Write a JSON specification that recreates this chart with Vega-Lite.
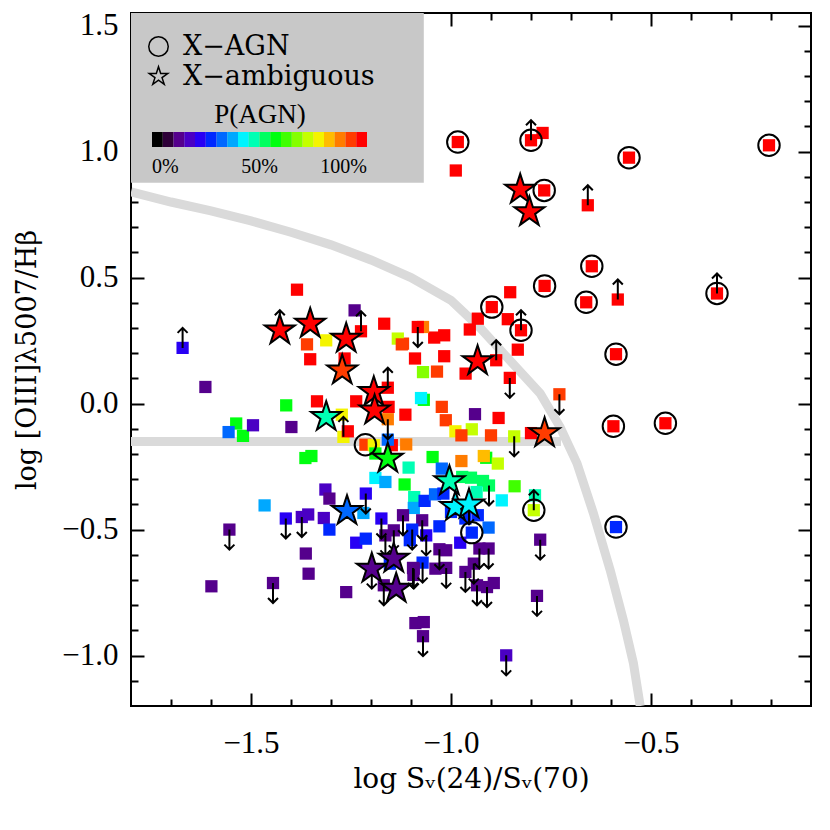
{
"$schema": "https://vega.github.io/schema/vega-lite/v6.json",
"width": 680, "height": 693,
"autosize": "none",
"padding": {"left": 131, "top": 13, "right": 19, "bottom": 124},
"background": "white",
"config": {"view": {"stroke": "black", "strokeWidth": 2}, "font": "Liberation Serif"},
"datasets": {
"pts": [
{"x":-0.983,"y":1.038,"p":0.975,"t":"X−AGN","a":"none"},
{"x":-0.988,"y":0.925,"p":0.975,"t":"none","a":"none"},
{"x":-0.800,"y":1.045,"p":0.975,"t":"X−AGN","a":"up"},
{"x":-0.771,"y":1.074,"p":0.975,"t":"none","a":"none"},
{"x":-0.555,"y":0.976,"p":0.975,"t":"X−AGN","a":"none"},
{"x":-0.205,"y":1.025,"p":0.975,"t":"X−AGN","a":"none"},
{"x":-0.827,"y":0.849,"p":0.975,"t":"X−ambiguous","a":"none"},
{"x":-0.767,"y":0.846,"p":0.975,"t":"X−AGN","a":"none"},
{"x":-0.804,"y":0.760,"p":0.975,"t":"X−ambiguous","a":"none"},
{"x":-0.658,"y":0.787,"p":0.975,"t":"none","a":"up"},
{"x":-0.648,"y":0.545,"p":0.975,"t":"X−AGN","a":"none"},
{"x":-0.766,"y":0.467,"p":0.975,"t":"X−AGN","a":"none"},
{"x":-0.662,"y":0.402,"p":0.975,"t":"X−AGN","a":"none"},
{"x":-0.583,"y":0.413,"p":0.975,"t":"none","a":"up"},
{"x":-0.335,"y":0.437,"p":0.975,"t":"X−AGN","a":"up"},
{"x":-0.852,"y":0.442,"p":0.975,"t":"none","a":"none"},
{"x":-0.898,"y":0.383,"p":0.975,"t":"X−AGN","a":"none"},
{"x":-0.933,"y":0.337,"p":0.975,"t":"none","a":"none"},
{"x":-0.858,"y":0.335,"p":0.975,"t":"none","a":"none"},
{"x":-0.825,"y":0.291,"p":0.975,"t":"X−AGN","a":"up"},
{"x":-0.953,"y":0.294,"p":0.975,"t":"none","a":"none"},
{"x":-1.042,"y":0.262,"p":0.975,"t":"none","a":"none"},
{"x":-1.017,"y":0.271,"p":0.975,"t":"none","a":"none"},
{"x":-1.070,"y":0.304,"p":0.875,"t":"none","a":"none"},
{"x":-0.5875,"y":0.196,"p":0.975,"t":"X−AGN","a":"none"},
{"x":-0.594,"y":-0.090,"p":0.975,"t":"X−AGN","a":"none"},
{"x":-0.464,"y":-0.078,"p":0.975,"t":"X−AGN","a":"none"},
{"x":-0.5875,"y":-0.490,"p":0.275,"t":"X−AGN","a":"none"},
{"x":-0.729,"y":0.037,"p":0.925,"t":"none","a":"down"},
{"x":-0.800,"y":-0.117,"p":0.975,"t":"none","a":"none"},
{"x":-0.766,"y":-0.117,"p":0.925,"t":"X−ambiguous","a":"none"},
{"x":-0.842,"y":-0.130,"p":0.725,"t":"none","a":"down"},
{"x":-0.790,"y":-0.364,"p":0.475,"t":"none","a":"none"},
{"x":-0.793,"y":-0.423,"p":0.725,"t":"X−AGN","a":"up"},
{"x":-0.777,"y":-0.540,"p":0.125,"t":"none","a":"down"},
{"x":-0.785,"y":-0.763,"p":0.125,"t":"none","a":"down"},
{"x":-0.862,"y":-0.999,"p":0.175,"t":"none","a":"down"},
{"x":-0.853,"y":0.102,"p":0.975,"t":"none","a":"down"},
{"x":-0.887,"y":0.172,"p":0.975,"t":"none","a":"up"},
{"x":-0.833,"y":0.214,"p":0.975,"t":"none","a":"none"},
{"x":-0.9635,"y":0.119,"p":0.975,"t":"none","a":"none"},
{"x":-1.017,"y":0.188,"p":0.975,"t":"none","a":"none"},
{"x":-1.090,"y":0.179,"p":0.975,"t":"none","a":"none"},
{"x":-1.070,"y":0.125,"p":0.675,"t":"none","a":"none"},
{"x":-1.035,"y":0.127,"p":0.925,"t":"none","a":"none"},
{"x":-1.120,"y":0.238,"p":0.925,"t":"none","a":"none"},
{"x":-1.083,"y":0.304,"p":0.975,"t":"none","a":"down"},
{"x":-1.068,"y":0.015,"p":0.575,"t":"none","a":"none"},
{"x":-1.075,"y":0.022,"p":0.425,"t":"none","a":"none"},
{"x":-1.023,"y":-0.013,"p":0.925,"t":"none","a":"none"},
{"x":-1.013,"y":-0.066,"p":0.925,"t":"none","a":"none"},
{"x":-0.940,"y":-0.042,"p":0.125,"t":"none","a":"none"},
{"x":-0.881,"y":-0.057,"p":0.975,"t":"none","a":"none"},
{"x":-0.989,"y":-0.110,"p":0.775,"t":"none","a":"none"},
{"x":-0.948,"y":-0.102,"p":0.725,"t":"none","a":"none"},
{"x":-0.974,"y":-0.126,"p":0.925,"t":"none","a":"none"},
{"x":-0.900,"y":-0.126,"p":0.925,"t":"none","a":"none"},
{"x":-1.112,"y":-0.162,"p":0.875,"t":"none","a":"none"},
{"x":-1.046,"y":-0.212,"p":0.575,"t":"none","a":"none"},
{"x":-0.974,"y":-0.228,"p":0.875,"t":"none","a":"none"},
{"x":-0.912,"y":-0.215,"p":0.575,"t":"none","a":"none"},
{"x":-0.918,"y":-0.208,"p":0.825,"t":"none","a":"none"},
{"x":-0.883,"y":-0.238,"p":0.725,"t":"none","a":"none"},
{"x":-1.106,"y":-0.254,"p":0.475,"t":"none","a":"none"},
{"x":-1.023,"y":-0.258,"p":0.325,"t":"none","a":"none"},
{"x":-1.116,"y":-0.321,"p":0.575,"t":"none","a":"none"},
{"x":-0.972,"y":-0.291,"p":0.525,"t":"none","a":"none"},
{"x":-0.950,"y":-0.294,"p":0.525,"t":"none","a":"none"},
{"x":-0.920,"y":-0.307,"p":0.525,"t":"none","a":"none"},
{"x":-0.905,"y":-0.325,"p":0.525,"t":"none","a":"down"},
{"x":-0.936,"y":-0.351,"p":0.475,"t":"none","a":"none"},
{"x":-0.873,"y":-0.384,"p":0.425,"t":"none","a":"none"},
{"x":-0.841,"y":-0.328,"p":0.625,"t":"none","a":"none"},
{"x":-1.092,"y":-0.371,"p":0.475,"t":"none","a":"none"},
{"x":-1.093,"y":-0.414,"p":0.375,"t":"none","a":"none"},
{"x":-1.066,"y":-0.386,"p":0.275,"t":"none","a":"none"},
{"x":-1.040,"y":-0.360,"p":0.325,"t":"none","a":"none"},
{"x":-1.019,"y":-0.357,"p":0.275,"t":"none","a":"none"},
{"x":-0.964,"y":-0.456,"p":0.275,"t":"none","a":"none"},
{"x":-0.933,"y":-0.443,"p":0.275,"t":"none","a":"none"},
{"x":-0.906,"y":-0.492,"p":0.325,"t":"none","a":"none"},
{"x":-0.948,"y":-0.512,"p":0.275,"t":"X−AGN","a":"none"},
{"x":-1.029,"y":-0.487,"p":0.275,"t":"none","a":"none"},
{"x":-0.977,"y":-0.552,"p":0.225,"t":"none","a":"none"},
{"x":-1.000,"y":-0.430,"p":0.275,"t":"none","a":"none"},
{"x":-1.120,"y":-0.443,"p":0.125,"t":"none","a":"down"},
{"x":-1.072,"y":-0.463,"p":0.125,"t":"none","a":"down"},
{"x":-1.097,"y":-0.500,"p":0.275,"t":"none","a":"down"},
{"x":-1.062,"y":-0.523,"p":0.225,"t":"none","a":"down"},
{"x":-1.029,"y":-0.578,"p":0.125,"t":"none","a":"down"},
{"x":-1.012,"y":-0.582,"p":0.125,"t":"none","a":"none"},
{"x":-1.071,"y":-0.631,"p":0.275,"t":"none","a":"down"},
{"x":-1.095,"y":-0.652,"p":0.125,"t":"none","a":"down"},
{"x":-1.039,"y":-0.655,"p":0.125,"t":"none","a":"none"},
{"x":-1.012,"y":-0.652,"p":0.125,"t":"none","a":"down"},
{"x":-0.964,"y":-0.668,"p":0.125,"t":"none","a":"down"},
{"x":-0.943,"y":-0.635,"p":0.125,"t":"none","a":"down"},
{"x":-0.929,"y":-0.575,"p":0.125,"t":"none","a":"down"},
{"x":-0.906,"y":-0.575,"p":0.125,"t":"none","a":"down"},
{"x":-0.935,"y":-0.721,"p":0.125,"t":"none","a":"down"},
{"x":-0.910,"y":-0.728,"p":0.125,"t":"none","a":"down"},
{"x":-0.893,"y":-0.712,"p":0.125,"t":"none","a":"none"},
{"x":-1.089,"y":-0.871,"p":0.125,"t":"none","a":"none"},
{"x":-1.068,"y":-0.867,"p":0.125,"t":"none","a":"none"},
{"x":-1.070,"y":-0.923,"p":0.125,"t":"none","a":"down"},
{"x":-1.671,"y":0.221,"p":0.225,"t":"none","a":"up"},
{"x":-1.614,"y":0.066,"p":0.125,"t":"none","a":"none"},
{"x":-1.385,"y":0.452,"p":0.975,"t":"none","a":"none"},
{"x":-1.360,"y":0.235,"p":0.925,"t":"none","a":"none"},
{"x":-1.352,"y":0.176,"p":0.975,"t":"none","a":"none"},
{"x":-1.312,"y":0.251,"p":0.775,"t":"none","a":"none"},
{"x":-1.241,"y":0.370,"p":0.125,"t":"none","a":"none"},
{"x":-1.225,"y":0.287,"p":0.975,"t":"none","a":"up"},
{"x":-1.266,"y":0.179,"p":0.975,"t":"none","a":"none"},
{"x":-1.167,"y":0.317,"p":0.975,"t":"none","a":"none"},
{"x":-1.133,"y":0.258,"p":0.725,"t":"none","a":"none"},
{"x":-1.123,"y":0.235,"p":0.925,"t":"none","a":"none"},
{"x":-1.335,"y":0.009,"p":0.975,"t":"none","a":"none"},
{"x":-1.412,"y":-0.007,"p":0.575,"t":"none","a":"none"},
{"x":-1.273,"y":-0.044,"p":0.775,"t":"none","a":"none"},
{"x":-1.269,"y":-0.132,"p":0.775,"t":"none","a":"up"},
{"x":-1.258,"y":-0.110,"p":0.975,"t":"none","a":"none"},
{"x":-1.237,"y":0.009,"p":0.975,"t":"none","a":"none"},
{"x":-1.158,"y":0.063,"p":0.975,"t":"none","a":"up"},
{"x":-1.156,"y":-0.013,"p":0.975,"t":"none","a":"none"},
{"x":-1.158,"y":-0.062,"p":0.875,"t":"none","a":"down"},
{"x":-1.114,"y":-0.044,"p":0.975,"t":"none","a":"none"},
{"x":-1.148,"y":-0.165,"p":0.975,"t":"none","a":"none"},
{"x":-1.158,"y":-0.143,"p":0.325,"t":"none","a":"none"},
{"x":-1.214,"y":-0.163,"p":0.925,"t":"X−AGN","a":"none"},
{"x":-1.193,"y":-0.165,"p":0.775,"t":"none","a":"none"},
{"x":-1.189,"y":-0.198,"p":0.575,"t":"none","a":"none"},
{"x":-1.537,"y":-0.079,"p":0.575,"t":"none","a":"none"},
{"x":-1.520,"y":-0.128,"p":0.575,"t":"none","a":"none"},
{"x":-1.556,"y":-0.113,"p":0.325,"t":"none","a":"none"},
{"x":-1.495,"y":-0.086,"p":0.175,"t":"none","a":"none"},
{"x":-1.399,"y":-0.093,"p":0.125,"t":"none","a":"none"},
{"x":-1.364,"y":-0.216,"p":0.575,"t":"none","a":"none"},
{"x":-1.349,"y":-0.208,"p":0.575,"t":"none","a":"none"},
{"x":-1.189,"y":-0.295,"p":0.425,"t":"none","a":"none"},
{"x":-1.164,"y":-0.311,"p":0.375,"t":"none","a":"none"},
{"x":-1.466,"y":-0.404,"p":0.375,"t":"none","a":"none"},
{"x":-1.314,"y":-0.341,"p":0.175,"t":"none","a":"none"},
{"x":-1.304,"y":-0.377,"p":0.125,"t":"none","a":"none"},
{"x":-1.219,"y":-0.434,"p":0.375,"t":"none","a":"none"},
{"x":-1.213,"y":-0.357,"p":0.225,"t":"none","a":"down"},
{"x":-1.413,"y":-0.456,"p":0.225,"t":"none","a":"down"},
{"x":-1.373,"y":-0.450,"p":0.175,"t":"none","a":"down"},
{"x":-1.357,"y":-0.440,"p":0.175,"t":"none","a":"none"},
{"x":-1.318,"y":-0.454,"p":0.175,"t":"none","a":"none"},
{"x":-1.304,"y":-0.500,"p":0.275,"t":"none","a":"none"},
{"x":-1.554,"y":-0.500,"p":0.125,"t":"none","a":"down"},
{"x":-1.363,"y":-0.595,"p":0.125,"t":"none","a":"none"},
{"x":-1.356,"y":-0.675,"p":0.125,"t":"none","a":"none"},
{"x":-1.599,"y":-0.725,"p":0.125,"t":"none","a":"none"},
{"x":-1.445,"y":-0.712,"p":0.125,"t":"none","a":"down"},
{"x":-1.262,"y":-0.748,"p":0.125,"t":"none","a":"none"},
{"x":-1.237,"y":-0.552,"p":0.225,"t":"none","a":"none"},
{"x":-1.213,"y":-0.536,"p":0.275,"t":"none","a":"none"},
{"x":-1.174,"y":-0.456,"p":0.225,"t":"none","a":"down"},
{"x":-1.164,"y":-0.523,"p":0.125,"t":"none","a":"down"},
{"x":-1.143,"y":-0.503,"p":0.125,"t":"none","a":"down"},
{"x":-1.103,"y":-0.542,"p":0.275,"t":"none","a":"none"},
{"x":-1.153,"y":-0.635,"p":0.275,"t":"none","a":"none"},
{"x":-1.168,"y":-0.721,"p":0.125,"t":"none","a":"down"},
{"x":-1.093,"y":-0.655,"p":0.125,"t":"none","a":"down"},
{"x":-1.094,"y":-0.680,"p":0.125,"t":"none","a":"none"},
{"x":-0.9335,"y":0.169,"p":0.975,"t":"X−ambiguous","a":"none"},
{"x":-1.428,"y":0.291,"p":0.975,"t":"X−ambiguous","a":"up"},
{"x":-1.352,"y":0.317,"p":0.975,"t":"X−ambiguous","a":"none"},
{"x":-1.262,"y":0.258,"p":0.975,"t":"X−ambiguous","a":"none"},
{"x":-1.272,"y":0.132,"p":0.925,"t":"X−ambiguous","a":"none"},
{"x":-1.312,"y":-0.053,"p":0.475,"t":"X−ambiguous","a":"none"},
{"x":-1.193,"y":0.046,"p":0.975,"t":"X−ambiguous","a":"none"},
{"x":-1.191,"y":-0.027,"p":0.975,"t":"X−ambiguous","a":"none"},
{"x":-1.158,"y":-0.218,"p":0.575,"t":"X−ambiguous","a":"none"},
{"x":-1.004,"y":-0.308,"p":0.475,"t":"X−ambiguous","a":"none"},
{"x":-0.989,"y":-0.410,"p":0.425,"t":"X−ambiguous","a":"none"},
{"x":-0.955,"y":-0.400,"p":0.425,"t":"X−ambiguous","a":"down"},
{"x":-1.260,"y":-0.426,"p":0.325,"t":"X−ambiguous","a":"none"},
{"x":-1.198,"y":-0.655,"p":0.125,"t":"X−ambiguous","a":"down"},
{"x":-1.143,"y":-0.615,"p":0.125,"t":"X−ambiguous","a":"none"},
{"x":-1.137,"y":-0.734,"p":0.125,"t":"X−ambiguous","a":"none"}
],
"curve": [
{"x":-1.8,"y":0.84},{"x":-1.7,"y":0.80},{"x":-1.6,"y":0.765},{"x":-1.5,"y":0.725},{"x":-1.4,"y":0.68},{"x":-1.3,"y":0.63},{"x":-1.2,"y":0.57},{"x":-1.1,"y":0.50},{"x":-1.0,"y":0.41},{"x":-0.927,"y":0.30},{"x":-0.852,"y":0.17},{"x":-0.777,"y":0.04},{"x":-0.727,"y":-0.094},{"x":-0.685,"y":-0.237},{"x":-0.644,"y":-0.435},{"x":-0.602,"y":-0.661},{"x":-0.569,"y":-0.86},{"x":-0.544,"y":-1.03},{"x":-0.527,"y":-1.2}
],
"hline": [{"x":-1.8,"y":-0.15},{"x":-0.725,"y":-0.15}]
},
"layer": [
{"data": {"values": [{}]},
 "mark": {"type": "rect", "color": "#c8c8c8"},
 "encoding": {
  "x": {"datum": -1.8, "type": "quantitative", "scale": {"domain": [-1.8, -0.1], "nice": false, "zero": false}, "axis": null},
  "x2": {"datum": -1.068},
  "y": {"datum": 0.876, "type": "quantitative", "scale": {"domain": [-1.2, 1.55], "nice": false, "zero": false}, "axis": null},
  "y2": {"datum": 1.55}}},
{"data": {"name": "curve"}, "mark": {"type": "line", "color": "#dadada", "strokeWidth": 9, "clip": true},
 "encoding": {"x": {"field": "x", "type": "quantitative", "axis": null}, "y": {"field": "y", "type": "quantitative", "axis": null}}},
{"data": {"name": "hline"}, "mark": {"type": "line", "color": "#dadada", "strokeWidth": 9, "strokeCap": "butt"},
 "encoding": {"x": {"field": "x", "type": "quantitative", "axis": null}, "y": {"field": "y", "type": "quantitative", "axis": null}}},
{"data": {"name": "pts"}, "transform": [{"filter": "datum.t !== 'X−ambiguous'"}],
 "mark": {"type": "point", "shape": "square", "filled": true, "size": 150, "opacity": 1},
 "encoding": {
  "x": {"field": "x", "type": "quantitative", "axis": {"orient": "bottom", "values": [-1.7,-1.6,-1.5,-1.4,-1.3,-1.2,-1.1,-1.0,-0.9,-0.8,-0.7,-0.6,-0.5,-0.4,-0.3,-0.2],
    "tickSize": {"condition": {"test": "abs(datum.value*2-round(datum.value*2))<0.001", "value": -13}, "value": -7},
    "tickColor": "black", "tickWidth": 2, "domain": false, "grid": false,
    "labelExpr": "abs(datum.value*2-round(datum.value*2))<0.001 ? format(datum.value,'.1f') : ''",
    "labelFont": "Liberation Serif", "labelFontSize": 31, "labelColor": "black", "labelPadding": 35, "labelOverlap": false, "labelFlush": false,
    "title": "log Sᵥ(24)/Sᵥ(70)", "titleFont": "DejaVu Serif", "titleFontSize": 28, "titleFontWeight": "normal", "titleColor": "black", "titlePadding": 1}},
  "y": {"field": "y", "type": "quantitative", "axis": {"orient": "left", "values": [-1.1,-1.0,-0.9,-0.8,-0.7,-0.6,-0.5,-0.4,-0.3,-0.2,-0.1,0,0.1,0.2,0.3,0.4,0.5,0.6,0.7,0.8,0.9,1.0,1.1,1.2,1.3,1.4,1.5],
    "tickSize": {"condition": {"test": "abs(datum.value*2-round(datum.value*2))<0.001", "value": -13}, "value": -7},
    "tickColor": "black", "tickWidth": 2, "domain": false, "grid": false,
    "labelExpr": "abs(datum.value*2-round(datum.value*2))<0.001 ? format(datum.value,'.1f') : ''",
    "labelFont": "Liberation Serif", "labelFontSize": 31, "labelColor": "black", "labelPadding": 26, "labelOverlap": false, "labelFlush": false,
    "title": "log [OIII]λ5007/Hβ", "titleFont": "DejaVu Serif", "titleFontSize": 27, "titleFontWeight": "normal", "titleColor": "black", "titlePadding": 20}},
  "color": {"field": "p", "type": "quantitative",
   "scale": {"type": "quantize", "domain": [0, 1], "range": ["#000000","#2e0038","#55008c","#4a00c4","#2800f4","#0028ff","#0068ff","#00a8ff","#00f4ff","#00ffb4","#00ff60","#00ff10","#40ff00","#84ff00","#c4ff00","#f4f400","#ffbc00","#ff7c00","#ff3c00","#ff0000"]},
   "legend": {"type": "gradient", "orient": "none", "legendX": 21, "legendY": 89, "direction": "horizontal",
    "gradientLength": 215, "gradientThickness": 15, "gradientStrokeWidth": 0,
    "values": [0, 0.0501, 0.1001, 0.1501, 0.2001, 0.2501, 0.3001, 0.3501, 0.4001, 0.4501, 0.5001, 0.5501, 0.6001, 0.6501, 0.7001, 0.7501, 0.8001, 0.8501, 0.9001, 0.9501, 1],
    "labelExpr": "datum.value < 0.001 ? '0%' : abs(datum.value - 0.5) < 0.01 ? '50%' : datum.value > 0.999 ? '100%' : ''",
    "labelFont": "Liberation Serif", "labelFontSize": 20, "labelColor": "black", "labelOverlap": false, "labelOffset": 10,
    "title": "P(AGN)", "titleFont": "Liberation Serif", "titleFontSize": 27, "titleFontWeight": "normal", "titleColor": "black", "titleAnchor": "middle", "titlePadding": 3,
    "encode": {"labels": {"align": {"value": "left"}, "dx": {"condition": [{"test": "datum.value < 0.001", "value": 0}, {"test": "datum.value > 0.999", "value": -14}], "value": -8}}}}}}},
{"data": {"name": "pts"}, "transform": [{"filter": "datum.a === 'up'"}],
 "mark": {"type": "point", "shape": "M0,0L0,-4M-1,-3L0,-4L1,-3", "size": 100, "filled": false, "stroke": "black", "strokeWidth": 2, "opacity": 1},
 "encoding": {"x": {"field": "x", "type": "quantitative", "axis": null}, "y": {"field": "y", "type": "quantitative", "axis": null}}},
{"data": {"name": "pts"}, "transform": [{"filter": "datum.a === 'down'"}],
 "mark": {"type": "point", "shape": "M0,0L0,4M-1,3L0,4L1,3", "size": 100, "filled": false, "stroke": "black", "strokeWidth": 2, "opacity": 1},
 "encoding": {"x": {"field": "x", "type": "quantitative", "axis": null}, "y": {"field": "y", "type": "quantitative", "axis": null}}},
{"data": {"name": "pts"}, "transform": [{"filter": "datum.t === 'X−AGN'"}],
 "mark": {"type": "point", "size": 460, "filled": false, "stroke": "black", "strokeWidth": 2, "opacity": 1},
 "encoding": {
  "x": {"field": "x", "type": "quantitative", "axis": {"orient": "top", "values": [-1.7,-1.6,-1.5,-1.4,-1.3,-1.2,-1.1,-1.0,-0.9,-0.8,-0.7,-0.6,-0.5,-0.4,-0.3,-0.2],
    "tickSize": {"condition": {"test": "abs(datum.value*2-round(datum.value*2))<0.001", "value": -13}, "value": -7},
    "tickColor": "black", "tickWidth": 2, "domain": false, "grid": false, "labels": false, "title": null}},
  "y": {"field": "y", "type": "quantitative", "axis": {"orient": "right", "values": [-1.1,-1.0,-0.9,-0.8,-0.7,-0.6,-0.5,-0.4,-0.3,-0.2,-0.1,0,0.1,0.2,0.3,0.4,0.5,0.6,0.7,0.8,0.9,1.0,1.1,1.2,1.3,1.4,1.5],
    "tickSize": {"condition": {"test": "abs(datum.value*2-round(datum.value*2))<0.001", "value": -13}, "value": -7},
    "tickColor": "black", "tickWidth": 2, "domain": false, "grid": false, "labels": false, "title": null}},
  "shape": {"field": "t", "type": "nominal",
   "scale": {"domain": ["X−AGN", "X−ambiguous"], "range": ["circle", "M0,-1L0.2245,-0.309L0.951,-0.309L0.363,0.118L0.588,0.809L0,0.382L-0.588,0.809L-0.363,0.118L-0.951,-0.309L-0.2245,-0.309Z"]},
   "legend": {"orient": "none", "legendX": 14, "legendY": 20, "title": null, "labelFont": "DejaVu Serif", "labelFontSize": 27, "labelColor": "black", "labelLimit": 400,
    "symbolSize": 380, "labelOffset": 11, "rowPadding": 2, "padding": 0,
    "encode": {"symbols": {"fill": {"value": "white"}, "stroke": {"value": "black"}, "strokeWidth": {"value": 2}, "opacity": {"value": 1},
      "size": {"condition": {"test": "datum.value === 'X−ambiguous'", "value": 520}, "value": 380}}}}}}},
{"data": {"name": "pts"}, "transform": [{"filter": "datum.t === 'X−ambiguous'"}],
 "mark": {"type": "point", "size": 1000, "filled": true, "stroke": "black", "strokeWidth": 2, "opacity": 1},
 "encoding": {
  "x": {"field": "x", "type": "quantitative", "axis": null},
  "y": {"field": "y", "type": "quantitative", "axis": null},
  "shape": {"field": "t", "type": "nominal"},
  "color": {"field": "p", "type": "quantitative",
   "scale": {"type": "quantize", "domain": [0, 1], "range": ["#000000","#2e0038","#55008c","#4a00c4","#2800f4","#0028ff","#0068ff","#00a8ff","#00f4ff","#00ffb4","#00ff60","#00ff10","#40ff00","#84ff00","#c4ff00","#f4f400","#ffbc00","#ff7c00","#ff3c00","#ff0000"]},
   "legend": null}}}
],
"resolve": {"axis": {"x": "independent", "y": "independent"}}
}
